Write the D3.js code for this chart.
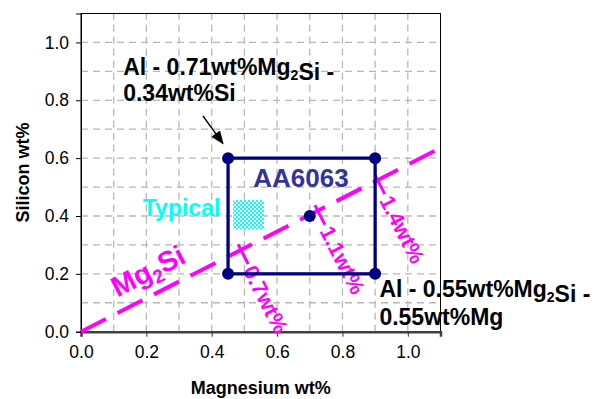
<!DOCTYPE html>
<meta charset="utf-8" />
<title>AA6063 composition window</title>
<script src="https://d3js.org/d3.v7.min.js"></script>
<style>
  body { margin: 0; background: #fff; }
  text { font-family: Arial, "Liberation Sans", sans-serif; }
</style>
<body>
<svg id="chart" width="595" height="399"></svg>
<script>
  // axis ticks and grid
  var xTicks = [0.0, 0.2, 0.4, 0.6, 0.8, 1.0];
  var yTicks = [0.0, 0.2, 0.4, 0.6, 0.8, 1.0];
  var gridX  = [0.1, 0.2, 0.3, 0.4, 0.5, 0.6, 0.7, 0.8, 0.9, 1.0];
  var gridY  = [0.1, 0.2, 0.3, 0.4, 0.5, 0.6, 0.7, 0.8, 0.9, 1.0];

  // AA6063 window corners (Mg, Si) and centre point
  var boxMg = [0.45, 0.9];
  var boxSi = [0.2, 0.6];
  var corners = [[0.45, 0.6], [0.9, 0.6], [0.45, 0.2], [0.9, 0.2]];
  var centre  = [[0.7, 0.4]];

  // stoichiometric Mg2Si line
  var mg2siLine = [[0.0, 0.0], [1.1, 0.635]];

  // Mg2Si wt% markers along that line: label, Mg where the tick starts
  var mg2siLabels = ["0.7wt%", "1.1wt%", "1.4wt%"];
  var mg2siMarkMg = [0.487, 0.722, 0.905];

  // typical composition patch
  var typicalMg = [0.465, 0.56];
  var typicalSi = [0.355, 0.455];

  var svg = d3.select("#chart");
  var x = d3.scaleLinear().domain([0, 1.1]).range([81, 440.5]);
  var y = d3.scaleLinear().domain([0, 1.1]).range([331.7, 13.5]);

  // checker pattern for "Typical"
  var defs = svg.append("defs");
  var pat = defs.append("pattern").attr("id", "checker")
    .attr("width", 4).attr("height", 4).attr("patternUnits", "userSpaceOnUse");
  pat.append("rect").attr("width", 4).attr("height", 4).attr("fill", "#fff");
  pat.append("rect").attr("width", 2).attr("height", 2).attr("fill", "#00ffff");
  pat.append("rect").attr("x", 2).attr("y", 2).attr("width", 2).attr("height", 2).attr("fill", "#00ffff");
  defs.append("marker").attr("id", "arrow")
    .attr("viewBox", "0 0 10 10").attr("refX", 9).attr("refY", 5)
    .attr("markerWidth", 9).attr("markerHeight", 9).attr("orient", "auto")
    .append("path").attr("d", "M0,1 L10,5 L0,9 Z").attr("fill", "#000");

  // grid
  svg.append("g").selectAll("line").data(gridX).join("line")
    .attr("x1", d => x(d)).attr("x2", d => x(d))
    .attr("y1", y(0)).attr("y2", y(1.1))
    .attr("stroke", "#b8b8b8").attr("stroke-width", 1.3).attr("stroke-dasharray", "7,5");
  svg.append("g").selectAll("line").data(gridY).join("line")
    .attr("y1", d => y(d)).attr("y2", d => y(d))
    .attr("x1", x(0)).attr("x2", x(1.1))
    .attr("stroke", "#b8b8b8").attr("stroke-width", 1.3).attr("stroke-dasharray", "7,5");

  // frame
  svg.append("rect").attr("x", x(0)).attr("y", y(1.1))
    .attr("width", x(1.1) - x(0)).attr("height", y(0) - y(1.1))
    .attr("fill", "none").attr("stroke", "#000").attr("stroke-width", 1);

  // axes
  var xAxis = d3.axisBottom(x).tickValues(xTicks).tickFormat(d3.format(".1f"))
    .tickSize(5).tickPadding(9);
  var gx = svg.append("g").attr("transform", "translate(0," + y(0) + ")").call(xAxis);
  gx.select(".domain").attr("stroke", "#404040").attr("stroke-width", 2.5);
  gx.selectAll(".tick line").attr("stroke", "#333");
  gx.selectAll("text").attr("font-size", 17.5).attr("fill", "#000")
    .attr("font-family", "Arial, 'Liberation Sans', sans-serif");

  var yAxis = d3.axisLeft(y).tickValues(yTicks).tickFormat(d3.format(".1f"))
    .tickSize(5).tickPadding(7);
  var gy = svg.append("g").attr("transform", "translate(" + x(0) + ",0)").call(yAxis);
  gy.select(".domain").attr("stroke", "#000");
  gy.selectAll("text").attr("font-size", 17.5).attr("fill", "#000")
    .attr("font-family", "Arial, 'Liberation Sans', sans-serif");

  svg.append("text").attr("x", (x(0) + x(1.1)) / 2).attr("y", 394)
    .attr("text-anchor", "middle").attr("font-size", 18).attr("font-weight", "bold")
    .text("Magnesium wt%");
  svg.append("text").attr("transform", "translate(29," + (y(0) + y(1.1)) / 2 + ") rotate(-90)")
    .attr("text-anchor", "middle").attr("font-size", 18).attr("font-weight", "bold")
    .text("Silicon wt%");

  // Typical patch
  svg.append("rect")
    .attr("x", x(typicalMg[0])).attr("y", y(typicalSi[1]))
    .attr("width", x(typicalMg[1]) - x(typicalMg[0]))
    .attr("height", y(typicalSi[0]) - y(typicalSi[1]))
    .attr("fill", "url(#checker)");
  svg.append("text").attr("x", x(0.189)).attr("y", y(0.401))
    .attr("font-size", 23).attr("font-weight", "bold").attr("fill", "#00ffff")
    .text("Typical");

  // Mg2Si line
  svg.append("path")
    .attr("d", d3.line().x(d => x(d[0])).y(d => y(d[1]))(mg2siLine))
    .attr("fill", "none").attr("stroke", "#ff00ff").attr("stroke-width", 4)
    .attr("stroke-dasharray", "28,13");

  var slope = (y(mg2siLine[1][1]) - y(0)) / (x(mg2siLine[1][0]) - x(0));
  var lineAngle = Math.atan(slope) * 180 / Math.PI;

  var lbl = svg.append("text")
    .attr("transform", "translate(" + x(0.112) + "," + y(0.118) + ") rotate(" + lineAngle + ")")
    .attr("font-size", 28.5).attr("font-weight", "bold").attr("fill", "#ff00ff");
  lbl.append("tspan").text("Mg");
  lbl.append("tspan").attr("font-size", 19).attr("dy", 6).text("2");
  lbl.append("tspan").attr("dy", -6).text("Si");

  // wt% markers
  mg2siLabels.forEach(function(t, i) {
    var mg = mg2siMarkMg[i];
    var si = mg * mg2siLine[1][1] / mg2siLine[1][0];
    var g = svg.append("g")
      .attr("transform", "translate(" + (x(mg) - 2) + "," + (y(si) - 6) + ") rotate(" + (lineAngle + 90) + ")");
    g.append("line").attr("x1", 0).attr("x2", 22).attr("y1", 0).attr("y2", 0)
      .attr("stroke", "#ff00ff").attr("stroke-width", 3);
    g.append("text").attr("x", 25).attr("y", 8)
      .attr("font-size", 21.5).attr("font-weight", "bold").attr("fill", "#ff00ff").text(t);
  });

  // AA6063 box
  svg.append("rect")
    .attr("x", x(boxMg[0])).attr("y", y(boxSi[1]))
    .attr("width", x(boxMg[1]) - x(boxMg[0]))
    .attr("height", y(boxSi[0]) - y(boxSi[1]))
    .attr("fill", "none").attr("stroke", "#000080").attr("stroke-width", 3.3);
  svg.append("g").selectAll("circle").data(corners.concat(centre)).join("circle")
    .attr("cx", d => x(d[0])).attr("cy", d => y(d[1])).attr("r", 6)
    .attr("fill", "#000080");

  svg.append("text").attr("x", x(0.527)).attr("y", y(0.501))
    .attr("font-size", 26).attr("font-weight", "bold").attr("fill", "#333399")
    .text("AA6063");

  // annotations
  function subText(px, py, parts) {
    var t = svg.append("text").attr("x", px).attr("y", py)
      .attr("font-size", 23).attr("font-weight", "bold").attr("fill", "#000");
    parts.forEach(function(p) {
      if (typeof p === "object") {
        t.append("tspan").attr("font-size", 14).attr("dy", 5).text(p.sub);
        t.append("tspan").attr("dy", -5).text("");
      } else {
        t.append("tspan").text(p);
      }
    });
  }
  subText(x(0.129), y(0.887), ["Al - 0.71wt%Mg", {sub: "2"}, "Si -"]);
  subText(x(0.129), y(0.796), ["0.34wt%Si"]);
  subText(x(0.913), y(0.121), ["Al - 0.55wt%Mg", {sub: "2"}, "Si -"]);
  subText(x(0.913), y(0.023), ["0.55wt%Mg"]);

  svg.append("line")
    .attr("x1", x(0.373)).attr("y1", y(0.746))
    .attr("x2", x(0.434)).attr("y2", y(0.651))
    .attr("stroke", "#000").attr("stroke-width", 1.5)
    .attr("marker-end", "url(#arrow)");
</script>
</body>
